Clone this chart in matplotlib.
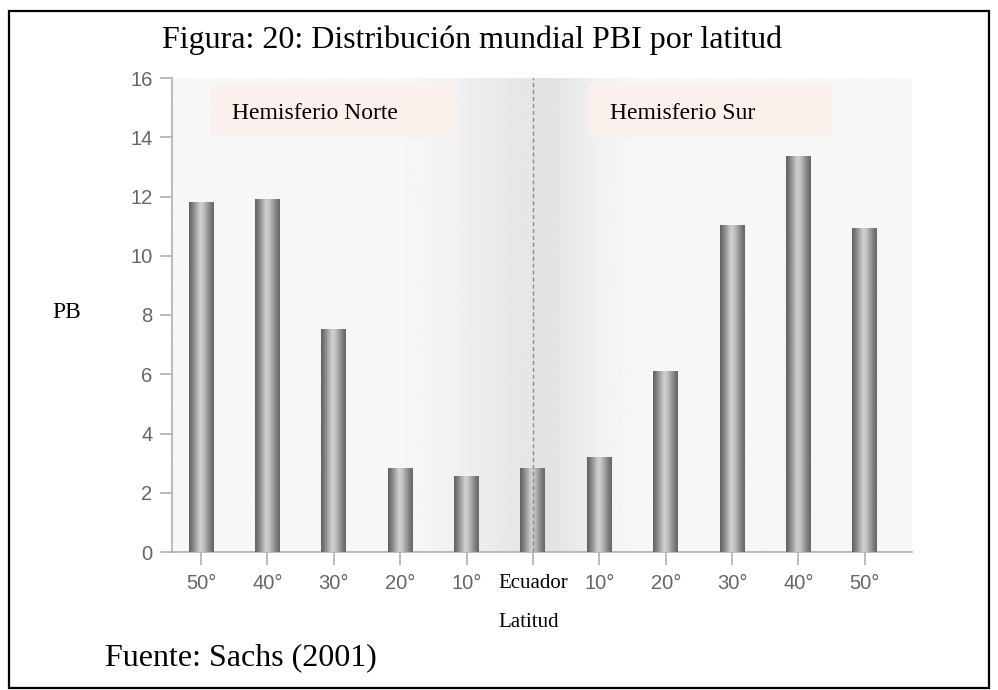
import numpy as np
import matplotlib
matplotlib.use('Agg')
import matplotlib.pyplot as plt
from matplotlib.patches import Rectangle

# Data
latitudes = ['50°', '40°', '30°', '20°', '10°', 'Ecuador', '10°', '20°', '30°', '40°', '50°']
pbi = [11.8, 11.9, 7.53, 2.85, 2.55, 2.85, 3.2, 6.12, 11.05, 13.38, 10.93]
hemispheres = ['Hemisferio Norte', 'Hemisferio Sur']
equator_idx = latitudes.index('Ecuador')

W, H = 998, 690
fig = plt.figure(figsize=(W / 100, H / 100), dpi=100)

# axes placed in pixels: x 172..912, y 78..552
ax = fig.add_axes([172 / W, (H - 552) / H, 740 / W, 474 / H])
x = np.arange(len(latitudes))

# panel background, darker near the equator
gx = np.linspace(0, 1, 400)
eq = (equator_idx + 0.437) / (10.71 + 0.437)
shade = np.where(gx < eq,
                 0.968 - 0.065 * np.exp(-((gx - eq) / 0.1) ** 2),
                 0.968 - 0.08 * np.exp(-((gx - eq - 0.01) / 0.07) ** 2))
ax.imshow(shade[None, :], extent=[-0.437, 10.71, 0, 16.1], aspect='auto',
          cmap='gray', vmin=0, vmax=1, zorder=0, interpolation='bilinear')

# hemisphere boxes
boxes = [(0.0527, 0.081), (0.562, 0.592)]
for (bx, tx), name in zip(boxes, hemispheres):
    ax.add_patch(Rectangle((bx, 0.8755), 0.33, 0.1095, transform=ax.transAxes,
                           facecolor='#fbf1ec', edgecolor='none', zorder=1))
    ax.text(tx, 0.926, name, transform=ax.transAxes, fontsize=17,
            family='Liberation Serif', va='center', ha='left', zorder=2)

# cylinder-like bars
bw = 0.376
bars = ax.bar(x, pbi, width=bw, color='none', edgecolor='none', zorder=3)
t = np.linspace(0, 1, 64)
prof = np.interp(t, [0, 0.12, 0.45, 0.58, 0.88, 1], [0.38, 0.48, 0.82, 0.76, 0.48, 0.40])
for rect, xi, v in zip(bars, x, pbi):
    im = ax.imshow(prof[None, :], extent=[xi - bw / 2, xi + bw / 2, 0, v], aspect='auto',
                   cmap='gray', vmin=0, vmax=1, zorder=3, interpolation='bilinear')
    im.set_clip_path(rect)
ax.set_xlim(-0.437, 10.71)
ax.set_ylim(0, 16)

# equator dashed line
ax.axvline(equator_idx, color='#8c8c8c', ls=(0, (3, 2)), lw=1, zorder=4)

for s in ['top', 'right']:
    ax.spines[s].set_visible(False)
for s in ['left', 'bottom']:
    ax.spines[s].set_color('#b0b0b0')
    ax.spines[s].set_linewidth(1.2)

ax.set_yticks(np.arange(0, 17, 2))
ax.set_xticks(x)
ax.set_xticklabels(latitudes)
ax.tick_params(axis='both', colors='#b0b0b0', labelcolor='#666666', length=9, width=1.2,
               labelsize=14.5)
ax.tick_params(axis='x', pad=7)
ax.tick_params(axis='y', pad=5)
for lab in ax.get_xticklabels() + ax.get_yticklabels():
    lab.set_family('Liberation Sans')
eq_lab = ax.get_xticklabels()[equator_idx]
eq_lab.set_family('Liberation Serif')
eq_lab.set_color('black')
eq_lab.set_fontsize(15)

# texts outside the axes
fig.text(162 / W, (H - 48) / H, 'Figura: 20: Distribución mundial PBI por latitud',
         family='Liberation Serif', fontsize=23, va='baseline', ha='left')
fig.text(105 / W, (H - 665) / H, 'Fuente: Sachs (2001)',
         family='Liberation Serif', fontsize=23, va='baseline', ha='left')
fig.text(52 / W, (H - 312) / H, 'PB', family='Liberation Serif', fontsize=17,
         va='center', ha='left')
fig.text(529 / W, (H - 627) / H, 'Latitud', family='Liberation Serif', fontsize=15,
         va='baseline', ha='center')

# outer frame
fig.add_artist(Rectangle((9 / W, 2 / H), 980 / W, 677 / H, transform=fig.transFigure,
                         fill=False, edgecolor='black', linewidth=1.6))

fig.savefig('out.png', dpi=100)
